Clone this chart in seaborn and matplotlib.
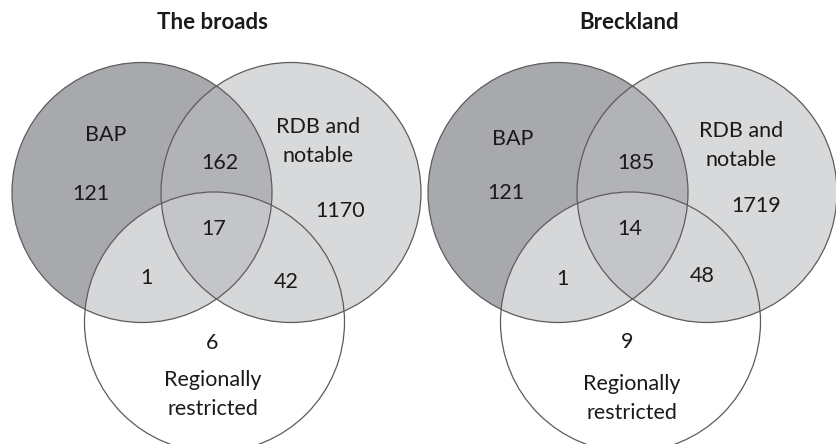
import numpy as np
import matplotlib
matplotlib.use("Agg")
import matplotlib.pyplot as plt
from matplotlib.patches import Circle, Polygon
import seaborn as sns

# data
titles = ["The broads", "Breckland"]
set_names = [["BAP"], ["RDB and", "notable"], ["Regionally", "restricted"]]
# counts: BAP only, BAP&RDB, RDB only, all three, BAP&Reg, RDB&Reg, Reg only
broads_counts = [121, 162, 1170, 17, 1, 42, 6]
breckland_counts = [121, 185, 1719, 14, 1, 48, 9]

sns.set_theme(style="white")
plt.rcParams["font.family"] = ["Lato", "DejaVu Sans"]

fig = plt.figure(figsize=(8.37, 4.44), dpi=100)
ax = fig.add_axes([0, 0, 1, 1])
ax.set_xlim(0, 837)
ax.set_ylim(444, 0)
ax.set_aspect("equal")
ax.axis("off")

col_bap = "#a8a9ac"
col_rdb = "#d8d9db"
col_lens = "#b2b3b6"
col_reg_ov = "#d6d7d9"
col_mid = "#c4c5c8"
edge = "#5c5c5c"
txt = "#1a1a1a"
R = 130
FS = 15.5


def lens_points(c1, c2, r):
    t = np.linspace(0, 2 * np.pi, 720)
    a = np.c_[c1[0] + r * np.cos(t), c1[1] + r * np.sin(t)]
    b = np.c_[c2[0] + r * np.cos(t), c2[1] + r * np.sin(t)]
    pa = a[np.hypot(a[:, 0] - c2[0], a[:, 1] - c2[1]) <= r]
    pb = b[np.hypot(b[:, 0] - c1[0], b[:, 1] - c1[1]) <= r]
    pts = np.vstack([pa, pb])
    cx, cy = pts.mean(axis=0)
    order = np.argsort(np.arctan2(pts[:, 1] - cy, pts[:, 0] - cx))
    return pts[order]


def clip_circle(c):
    return Circle(c, R, transform=ax.transData)


def draw_venn(x0, title, counts, label_pos, count_pos):
    c_bap = (x0 + 142, 192.5)
    c_rdb = (x0 + 291, 192.5)
    c_reg = (x0 + 214.5, 322)

    ax.add_patch(Circle(c_rdb, R, facecolor=col_rdb, edgecolor="none"))
    ax.add_patch(Circle(c_bap, R, facecolor=col_bap, edgecolor="none"))
    p = Circle(c_bap, R, facecolor=col_lens, edgecolor="none")
    ax.add_patch(p)
    p.set_clip_path(clip_circle(c_rdb))
    ax.add_patch(Circle(c_reg, R, facecolor="white", edgecolor="none"))
    for c in (c_bap, c_rdb):
        p = Circle(c_reg, R, facecolor=col_reg_ov, edgecolor="none")
        ax.add_patch(p)
        p.set_clip_path(clip_circle(c))
    lens = Polygon(lens_points(c_bap, c_rdb, R), closed=True,
                   facecolor=col_mid, edgecolor="none")
    ax.add_patch(lens)
    lens.set_clip_path(clip_circle(c_reg))
    for c in (c_bap, c_rdb, c_reg):
        ax.add_patch(Circle(c, R, facecolor="none", edgecolor=edge, lw=0.9))

    ax.text(x0 + 213, 22, title, ha="center", va="center",
            fontsize=16, fontweight="bold", color=txt)
    for lines, (x, y) in zip(set_names, label_pos):
        for i, line in enumerate(lines):
            ax.text(x0 + x, y + 29 * i, line, ha="center", va="center",
                    fontsize=FS, color=txt)
    for n, (x, y) in zip(counts, count_pos):
        ax.text(x0 + x, y, str(n), ha="center", va="center", fontsize=FS,
                color=txt)


draw_venn(0, titles[0], broads_counts,
          [(106, 135), (318, 127), (213, 380)],
          [(91, 194), (220, 163), (340, 211), (214, 229),
           (146, 278), (286, 282), (212, 343)])
draw_venn(416, titles[1], breckland_counts,
          [(97, 139), (325, 131), (216, 384)],
          [(90, 193), (220, 163), (340, 206), (214, 229),
           (146, 279), (286, 276), (211, 342)])

fig.savefig("out.png", dpi=100)
plt.close(fig)
